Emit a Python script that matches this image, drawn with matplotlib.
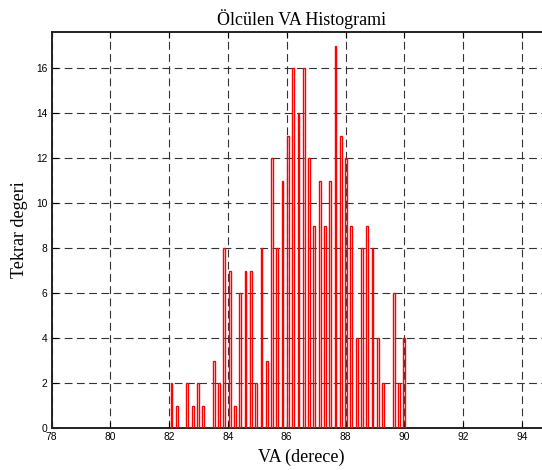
import matplotlib
matplotlib.use("Agg")
import matplotlib.pyplot as plt

# Histogram bin centres (degrees) and their counts
bin_centers = [82.08, 82.26, 82.44, 82.62, 82.80, 82.98, 83.16, 83.34, 83.52, 83.70,
               83.88, 84.06, 84.24, 84.42, 84.60, 84.78, 84.96, 85.14, 85.32, 85.50,
               85.68, 85.86, 86.04, 86.22, 86.40, 86.58, 86.76, 86.94, 87.12, 87.30,
               87.48, 87.66, 87.84, 88.02, 88.20, 88.38, 88.56, 88.74, 88.92, 89.10,
               89.28, 89.46, 89.64, 89.82, 90.00]
counts = [2, 1, 0, 2, 1, 2, 1, 0, 3, 2,
          8, 7, 1, 6, 7, 7, 2, 8, 3, 12,
          8, 11, 13, 16, 14, 16, 12, 9, 11, 9,
          11, 17, 13, 12, 9, 4, 8, 9, 8, 4,
          2, 0, 6, 2, 4]

x_ticks = [78, 80, 82, 84, 86, 88, 90, 92, 94]
y_ticks = [0, 2, 4, 6, 8, 10, 12, 14, 16]

title_text = "Ölcülen VA Histogrami"
x_label = "VA (derece)"
y_label = "Tekrar degeri"

serif = "Liberation Serif"
sans = "Liberation Sans"
bar_w = 0.06

fig = plt.figure(figsize=(5.42, 4.70), dpi=100)
ax = fig.add_axes([51.5 / 542, 42 / 470, 17 * 29.4 / 542, 396 / 470])

ax.bar(bin_centers, counts, width=bar_w, fill=False, edgecolor="red",
       linewidth=1.0, zorder=3)
ax.plot([bin_centers[0] - bar_w / 2, bin_centers[-1] + bar_w / 2], [0, 0],
        color="red", linewidth=1.0, zorder=3)

ax.set_xlim(78, 95)
ax.set_ylim(0, 17.6)
ax.set_xticks(x_ticks)
ax.set_yticks(y_ticks)

ax.grid(True, color="#333333", linewidth=0.8, linestyle=(0, (7, 4)), zorder=1)
ax.set_axisbelow(True)

ax.tick_params(direction="in", length=4, width=0.8, top=True, right=True,
               labelsize=7.4, pad=3)
for lab in ax.get_xticklabels() + ax.get_yticklabels():
    lab.set_fontfamily(sans)

for sp in ax.spines.values():
    sp.set_linewidth(1.4)
    sp.set_color("#222222")

ax.set_title(title_text, fontfamily=serif, fontsize=13, pad=5)
ax.set_xlabel(x_label, fontfamily=serif, fontsize=13, labelpad=5)
ax.set_ylabel(y_label, fontfamily=serif, fontsize=13, labelpad=6)

fig.savefig("out.png", dpi=100)
